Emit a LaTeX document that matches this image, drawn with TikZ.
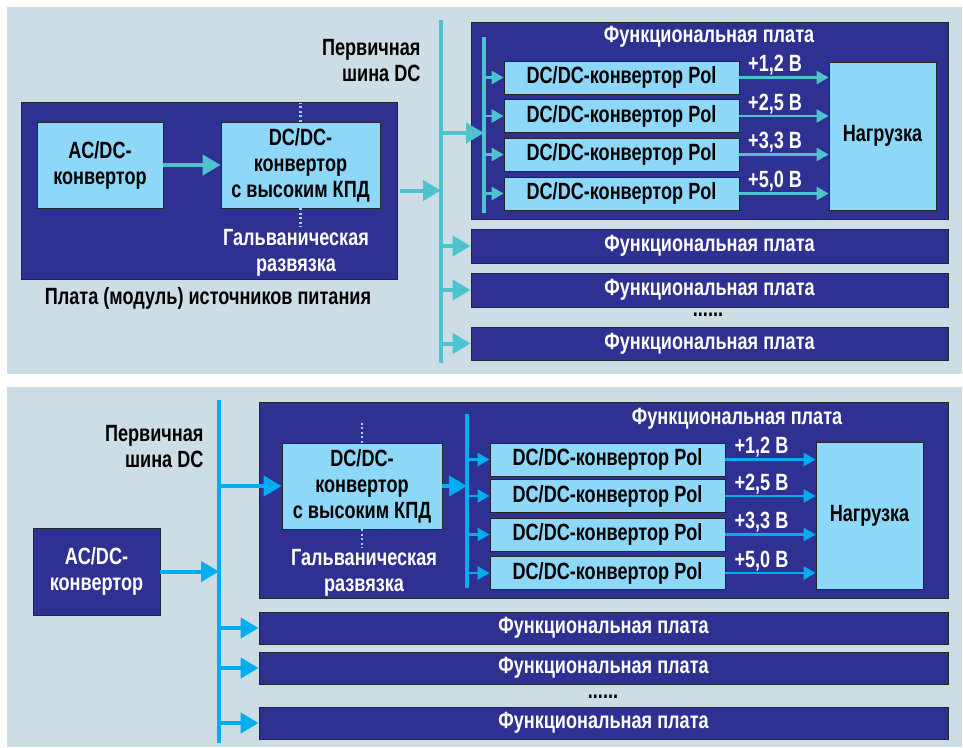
\documentclass[tikz,border=0pt]{standalone}
\usepackage{fontspec}
\setmainfont[FakeStretch=0.77]{Liberation Sans}
\usetikzlibrary{arrows.meta,calc}

\definecolor{navy}{HTML}{2E3192}
\definecolor{cyanbox}{HTML}{8DD8F8}
\definecolor{panel}{HTML}{CCDDE6}
\definecolor{tealbus}{HTML}{4FC3CD}
\definecolor{bluebus}{HTML}{00AEEF}

\tikzset{
  board/.style={draw=black!85,line width=0.8pt,fill=navy,text=white,inner sep=0pt},
  lbox/.style={draw=black!85,line width=0.8pt,fill=cyanbox,text=black,inner sep=0pt},
  busline/.style={line width=4pt},
  fatarrow/.style={line width=4pt,-{Triangle[length=18pt,width=20pt]}},
  slimarrow/.style={line width=2.5pt,-{Triangle[length=12pt,width=13pt]}},
  iso/.style={cyanbox,line width=2.5pt,dash pattern=on 2pt off 2.5pt},
}

\begin{document}
\begin{tikzpicture}[x=1pt,y=-1pt,font=\bfseries\fontsize{23.5}{26}\selectfont]
\useasboundingbox (0,0) rectangle (963,747);

% upper variant: isolated DC/DC on the power board
\fill[panel] (7,7) rectangle (962,374);

\node[board,minimum width=376pt,minimum height=177pt] (psu) at (209,190.5) {};
\node[lbox,minimum width=126pt,minimum height=86pt,align=center]
      (acdcA) at (100,165) {AC/DC-\\конвертор};
\node[lbox,minimum width=159pt,minimum height=86pt,align=center]
      (dcdcA) at (300.5,165) {DC/DC-\\конвертор\\с высоким КПД};
\node[text=white,align=center] (isoA) at (296,253) {Гальваническая\\развязка};
\node (psuname) at (208,298) {Плата (модуль) источников питания};
\draw[iso] (dcdcA.north) -- ++(0,-19);
\draw[iso] (dcdcA.south) -- ++(0,19);
\draw[fatarrow,tealbus] (acdcA) -- (dcdcA);

\coordinate (busAtop) at (441,20);
\coordinate (busAbot) at (441,363);
\draw[busline,tealbus] (busAtop) -- (busAbot);
\node[anchor=east,align=right] (busAname) at (424,61) {Первичная\\шина DC};

\node[board,minimum width=477pt,minimum height=197pt] (fbA1) at (709.5,120.5) {};
\node[text=white] (fbA1name) at (709,37) {Функциональная плата};
\node[board,minimum width=477pt,minimum height=34pt] (fbA2) at (709.5,246) {Функциональная плата};
\node[board,minimum width=477pt,minimum height=34pt] (fbA3) at (709.5,290) {Функциональная плата};
\node[board,minimum width=477pt,minimum height=33pt] (fbA4) at (709.5,343.5) {Функциональная плата};
\node[inner sep=0pt] (dotsA) at (708,315) {......};

\coordinate (lbusAtop) at (484,37);
\coordinate (lbusAbot) at (484,213);
\draw[busline,tealbus] (lbusAtop) -- (lbusAbot);
\node[lbox,minimum width=107pt,minimum height=148pt] (loadA) at (882.5,136) {Нагрузка};

\draw[fatarrow,tealbus,shorten <=3pt] (psu.east) -- (psu.east -| busAtop);
\coordinate (tapA) at (441,133);
\draw[fatarrow,tealbus] (tapA) -- (tapA -| lbusAtop);
\foreach \b in {fbA2,fbA3,fbA4}
  \draw[fatarrow,tealbus] (busAtop |- \b.west) -- (\b.west);

\foreach \i/\y/\v in {1/77.5/{+1,2 В},2/116/{+2,5 В},3/154.5/{+3,3 В},4/193.5/{+5,0 В}} {
  \node[lbox,minimum width=235pt,minimum height=33pt] (polA\i) at (621.5,\y) {DC/DC-конвертор Pol};
  \draw[slimarrow,tealbus] (lbusAtop |- polA\i.west) -- (polA\i.west);
  \draw[slimarrow,tealbus] (polA\i.east) -- (polA\i.east -| loadA.west)
        node[pos=0.4,above,inner sep=1pt,text=white] {\v};
}

% lower variant: isolated DC/DC on each functional board
\fill[panel] (7,387) rectangle (962,747);

\coordinate (busBtop) at (219,400);
\coordinate (busBbot) at (219,743);
\draw[busline,bluebus] (busBtop) -- (busBbot);
\node[anchor=east,align=right] (busBname) at (207,447) {Первичная\\шина DC};

\node[board,minimum width=127pt,minimum height=87pt,align=center]
      (acdcB) at (96.5,571.5) {AC/DC-\\конвертор};
\draw[fatarrow,bluebus] (acdcB.east) -- (acdcB.east -| busBtop);

\node[board,minimum width=689pt,minimum height=196pt] (fbB1) at (603.5,500) {};
\node[text=white] (fbB1name) at (737,419) {Функциональная плата};
\node[board,minimum width=689pt,minimum height=32pt] (fbB2) at (603.5,628) {Функциональная плата};
\node[board,minimum width=689pt,minimum height=32pt] (fbB3) at (603.5,668) {Функциональная плата};
\node[board,minimum width=689pt,minimum height=32pt] (fbB4) at (603.5,723) {Функциональная плата};
\node[inner sep=0pt] (dotsB) at (603,697) {......};

\node[lbox,minimum width=160pt,minimum height=86pt,align=center]
      (dcdcB) at (362,486) {DC/DC-\\конвертор\\с высоким КПД};
\node[text=white,align=center] (isoB) at (364,573) {Гальваническая\\развязка};
\draw[iso] (dcdcB.north) -- ++(0,-21);
\draw[iso] (dcdcB.south) -- ++(0,19);

\coordinate (lbusBtop) at (467,414);
\coordinate (lbusBbot) at (467,588);
\draw[busline,bluebus] (lbusBtop) -- (lbusBbot);
\node[lbox,minimum width=107pt,minimum height=147pt] (loadB) at (869.5,515.5) {Нагрузка};

\draw[fatarrow,bluebus] (busBtop |- dcdcB.west) -- (dcdcB.west);
\draw[fatarrow,bluebus] (dcdcB.east) -- (dcdcB.east -| lbusBtop);
\foreach \b in {fbB2,fbB3,fbB4}
  \draw[fatarrow,bluebus] (busBtop |- \b.west) -- (\b.west);

\foreach \i/\y/\v in {1/459.5/{+1,2 В},2/496/{+2,5 В},3/534.5/{+3,3 В},4/573/{+5,0 В}} {
  \node[lbox,minimum width=235pt,minimum height=33pt] (polB\i) at (607.5,\y) {DC/DC-конвертор Pol};
  \draw[slimarrow,bluebus] (lbusBtop |- polB\i.west) -- (polB\i.west);
  \draw[slimarrow,bluebus] (polB\i.east) -- (polB\i.east -| loadB.west)
        node[pos=0.4,above,inner sep=1pt,text=white] {\v};
}

\end{tikzpicture}
\end{document}
